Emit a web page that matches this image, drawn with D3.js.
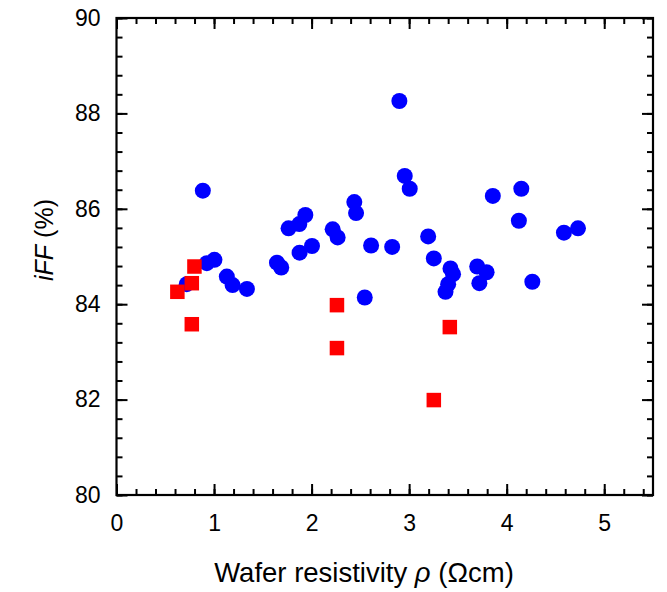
<!DOCTYPE html>
<html>
<head>
<meta charset="utf-8">
<script src="https://cdn.jsdelivr.net/npm/d3@7"></script>
<style>
html,body{margin:0;padding:0;background:#fff;}
text{font-family:Arial,"Liberation Sans",sans-serif;fill:#000;}
</style>
</head>
<body>
<svg id="chart" width="667" height="592"></svg>
<script>
const blueX = [0.72,0.885,0.926,1.004,1.131,1.19,1.337,1.645,1.689,1.764,1.874,1.877,1.936,2.004,2.216,2.267,2.438,2.456,2.545,2.61,2.826,2.90,2.955,3.006,3.195,3.253,3.373,3.40,3.424,3.45,3.698,3.72,3.794,3.858,4.125,4.15,4.263,4.587,4.731];
const blueY = [84.42,86.38,84.86,84.93,84.58,84.40,84.32,84.87,84.77,85.59,85.68,85.08,85.87,85.22,85.57,85.40,86.14,85.91,84.14,85.23,85.20,88.26,86.69,86.42,85.42,84.96,84.26,84.42,84.75,84.63,84.79,84.44,84.67,86.27,85.75,86.42,84.47,85.50,85.59];
const redX = [0.624,0.772,0.799,0.772,2.26,2.26,3.417,3.253];
const redY = [84.26,84.44,84.79,83.58,83.98,83.08,83.52,81.99];
const xMajor = [0,1,2,3,4,5];
const yMajor = [80,82,84,86,88,90];

const L=116.5, R=653, T=18, B=495;
const svg = d3.select("#chart");
const x = d3.scaleLinear().domain([0,5.5]).range([L,R]);
const y = d3.scaleLinear().domain([80,90]).range([B,T]);

const xMinor = d3.range(0,5.5001,0.2).map(v=>+v.toFixed(2));
const yMinor = d3.range(80,90.0001,0.4).map(v=>+v.toFixed(2));

function style(g){ g.select(".domain").remove(); g.selectAll("line").attr("stroke","#000").attr("stroke-width",2); }

// minor ticks
svg.append("g").attr("transform",`translate(0,${B})`).call(d3.axisBottom(x).tickValues(xMinor).tickSize(-6).tickFormat("")).call(style);
svg.append("g").attr("transform",`translate(0,${T})`).call(d3.axisTop(x).tickValues(xMinor).tickSize(-6).tickFormat("")).call(style);
svg.append("g").attr("transform",`translate(${L},0)`).call(d3.axisLeft(y).tickValues(yMinor).tickSize(-6).tickFormat("")).call(style);
svg.append("g").attr("transform",`translate(${R},0)`).call(d3.axisRight(y).tickValues(yMinor).tickSize(-6).tickFormat("")).call(style);
// major ticks
const gx = svg.append("g").attr("transform",`translate(0,${B})`).call(d3.axisBottom(x).tickValues(xMajor).tickSize(-11).tickPadding(20).tickFormat(d3.format("d"))).call(style);
gx.selectAll("text").attr("font-size",23);
svg.append("g").attr("transform",`translate(0,${T})`).call(d3.axisTop(x).tickValues(xMajor).tickSize(-11).tickFormat("")).call(style);
const gy = svg.append("g").attr("transform",`translate(${L},0)`).call(d3.axisLeft(y).tickValues(yMajor).tickSize(-11).tickPadding(16).tickFormat(d3.format("d"))).call(style);
gy.selectAll("text").attr("font-size",23);
svg.append("g").attr("transform",`translate(${R},0)`).call(d3.axisRight(y).tickValues(yMajor).tickSize(-11).tickFormat("")).call(style);

// frame
svg.append("rect").attr("x",L).attr("y",T).attr("width",R-L).attr("height",B-T)
  .attr("fill","none").attr("stroke","#000").attr("stroke-width",2.2);

// blue circles
svg.append("g").selectAll("circle").data(blueX.map((v,i)=>[v,blueY[i]])).join("circle")
  .attr("cx",d=>x(d[0])).attr("cy",d=>y(d[1])).attr("r",8).attr("fill","#0000ff");
// red squares
const s = 14.5;
svg.append("g").selectAll("rect").data(redX.map((v,i)=>[v,redY[i]])).join("rect")
  .attr("x",d=>x(d[0])-s/2).attr("y",d=>y(d[1])-s/2).attr("width",s).attr("height",s)
  .attr("fill","#ff0000");

// axis titles
const xt = svg.append("text").attr("x",364).attr("y",582).attr("text-anchor","middle").attr("font-size",27.5);
xt.append("tspan").text("Wafer resistivity ");
xt.append("tspan").attr("font-style","italic").text("ρ");
xt.append("tspan").text(" (Ωcm)");

const yt = svg.append("text").attr("transform","translate(53,240) rotate(-90)").attr("text-anchor","middle").attr("font-size",25);
yt.append("tspan").attr("font-style","italic").text("iFF");
yt.append("tspan").text(" (%)");
</script>
</body>
</html>
